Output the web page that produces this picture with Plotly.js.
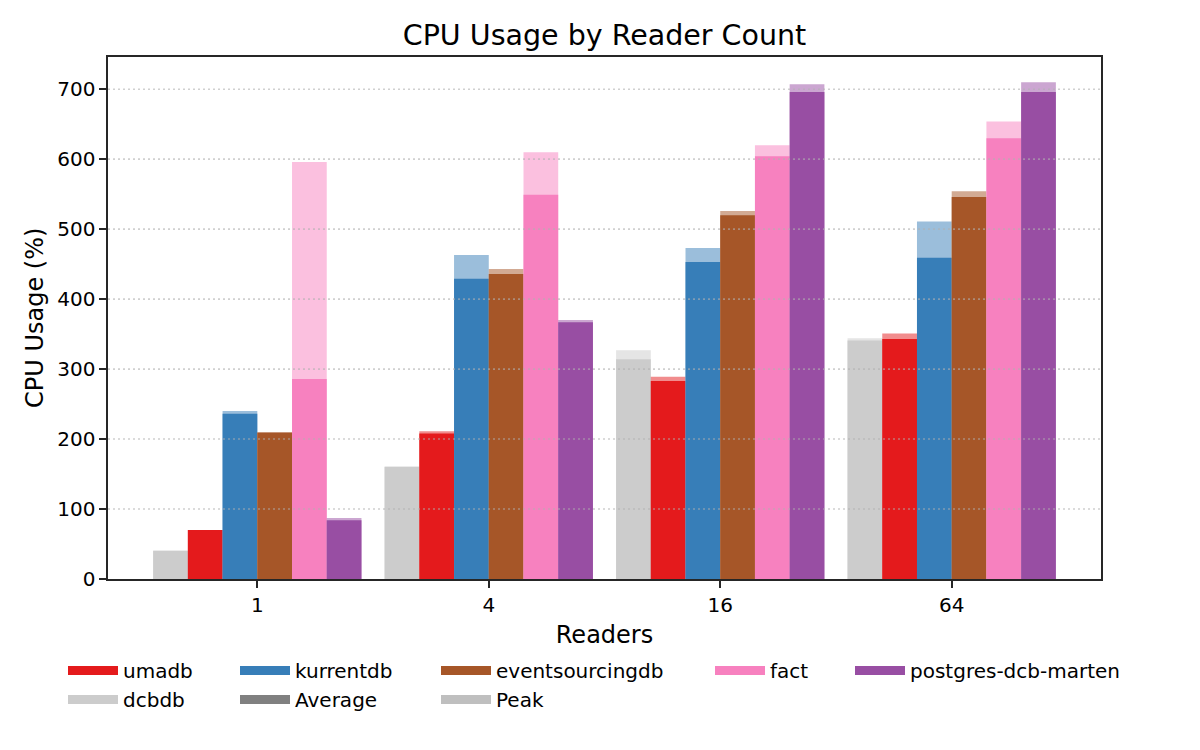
<!DOCTYPE html>
<html>
<head>
<meta charset="utf-8">
<script src="https://cdn.plot.ly/plotly-3.0.1.min.js"></script>
<style>
  html, body { margin: 0; padding: 0; background: #fff; }
  #grafica { width: 1200px; height: 750px; }
</style>
</head>
<body>
<div id="grafica"></div>
<script>
// datos
const readers = ["1", "4", "16", "64"];

const seriesNames = ["dcbdb", "umadb", "kurrentdb", "eventsourcingdb", "fact", "postgres-dcb-marten"];
const seriesColors = ["#cccccc", "#e41a1c", "#377eb8", "#a65628", "#f781bf", "#984ea3"];

const avgDcbdb = [40, 160, 314, 341];
const avgUmadb = [70, 208, 283, 343];
const avgKurrentdb = [236, 429, 453, 459];
const avgEventsourcingdb = [209, 436, 520, 546];
const avgFact = [286, 549, 604, 630];
const avgPostgres = [84, 367, 696, 696];

const peakDcbdb = [41, 161, 327, 344];
const peakUmadb = [70, 211, 289, 351];
const peakKurrentdb = [240, 463, 473, 511];
const peakEventsourcingdb = [210, 443, 526, 554];
const peakFact = [596, 610, 620, 654];
const peakPostgres = [87, 370, 707, 710];

const yTicks = [0, 100, 200, 300, 400, 500, 600, 700];

const avgSeries = [avgDcbdb, avgUmadb, avgKurrentdb, avgEventsourcingdb, avgFact, avgPostgres];
const peakSeries = [peakDcbdb, peakUmadb, peakKurrentdb, peakEventsourcingdb, peakFact, peakPostgres];

// columnas de la leyenda (como ncol=5 de matplotlib)
const legendColumns = [
  ["umadb", "dcbdb"],
  ["kurrentdb", "Average"],
  ["eventsourcingdb", "Peak"],
  ["fact"],
  ["postgres-dcb-marten"]
];
const legendX = [63, 235, 436, 710, 850];

const anchoBarra = 0.15;
const traces = [];

seriesNames.forEach((nombre, i) => {
  const offset = -0.45 + i * anchoBarra;
  // pico detras, transparente
  traces.push({
    type: "bar",
    x: readers,
    y: peakSeries[i],
    width: anchoBarra,
    offset: offset,
    marker: { color: seriesColors[i], opacity: 0.5, line: { width: 0 } },
    showlegend: false,
    hoverinfo: "skip"
  });
  // promedio encima
  traces.push({
    type: "bar",
    x: readers,
    y: avgSeries[i],
    width: anchoBarra,
    offset: offset,
    marker: { color: seriesColors[i], line: { width: 0 } },
    name: nombre,
    showlegend: false
  });
});

const colorLeyenda = (nombre) => {
  if (nombre === "Average") return "#808080";
  if (nombre === "Peak") return "rgba(128,128,128,0.5)";
  return seriesColors[seriesNames.indexOf(nombre)];
};

const layoutLeyendas = {};
legendColumns.forEach((columna, c) => {
  const id = c === 0 ? "legend" : "legend" + (c + 1);
  columna.forEach(nombre => {
    traces.push({
      type: "scatter",
      mode: "lines",
      x: [null],
      y: [null],
      name: nombre,
      legend: id,
      line: { color: colorLeyenda(nombre), width: 9 },
      hoverinfo: "skip"
    });
  });
  layoutLeyendas[id] = {
    orientation: "v",
    xref: "container",
    yref: "container",
    x: legendX[c] / 1200,
    y: 1 - 651 / 750,
    xanchor: "left",
    yanchor: "top",
    bgcolor: "rgba(0,0,0,0)",
    borderwidth: 0,
    itemwidth: 50,
    font: { size: 20, color: "#000" },
    itemclick: false
  };
});

const lineaEje = "#262626";

const layout = {
  width: 1200,
  height: 750,
  margin: { l: 108, r: 99, t: 57, b: 171, autoexpand: false },
  paper_bgcolor: "white",
  plot_bgcolor: "white",
  font: { family: "DejaVu Sans", size: 20, color: "#000" },
  barmode: "overlay",
  title: {
    text: "CPU Usage by Reader Count",
    font: { size: 28.5, color: "#000" },
    xref: "paper",
    x: 0.5,
    xanchor: "center",
    yref: "container",
    y: 1 - 35 / 750,
    yanchor: "middle"
  },
  xaxis: {
    type: "category",
    range: [-0.645, 3.645],
    showline: true,
    mirror: true,
    linecolor: lineaEje,
    linewidth: 1.6,
    ticks: "outside",
    ticklen: 7,
    tickwidth: 1.6,
    tickcolor: lineaEje,
    showgrid: false,
    zeroline: false,
    tickfont: { size: 20 },
    title: { text: "Readers", font: { size: 24 }, standoff: 10 }
  },
  yaxis: {
    range: [0, 746],
    tickvals: yTicks,
    showline: true,
    mirror: true,
    linecolor: lineaEje,
    linewidth: 1.6,
    ticks: "outside",
    ticklen: 7,
    tickwidth: 1.6,
    tickcolor: lineaEje,
    showgrid: false,
    zeroline: false,
    tickfont: { size: 20 }
  },
  // titulo del eje y como anotacion (el titulo del eje se iba al centro)
  annotations: [{
    text: "CPU Usage (%)",
    xref: "paper",
    yref: "paper",
    x: 0,
    y: 0.5,
    xshift: -73,
    xanchor: "center",
    yanchor: "middle",
    textangle: -90,
    showarrow: false,
    font: { size: 24, color: "#000" }
  }],
  // rejilla punteada por encima de las barras, como en matplotlib
  shapes: yTicks.slice(1).map(v => ({
    type: "line",
    xref: "paper",
    yref: "y",
    x0: 0,
    x1: 1,
    y0: v,
    y1: v,
    layer: "above",
    line: { color: "rgba(176,176,176,0.6)", width: 1.6, dash: "2px,3px" }
  })),
  ...layoutLeyendas
};

Plotly.newPlot("grafica", traces, layout, { staticPlot: true, displayModeBar: false });
</script>
</body>
</html>
